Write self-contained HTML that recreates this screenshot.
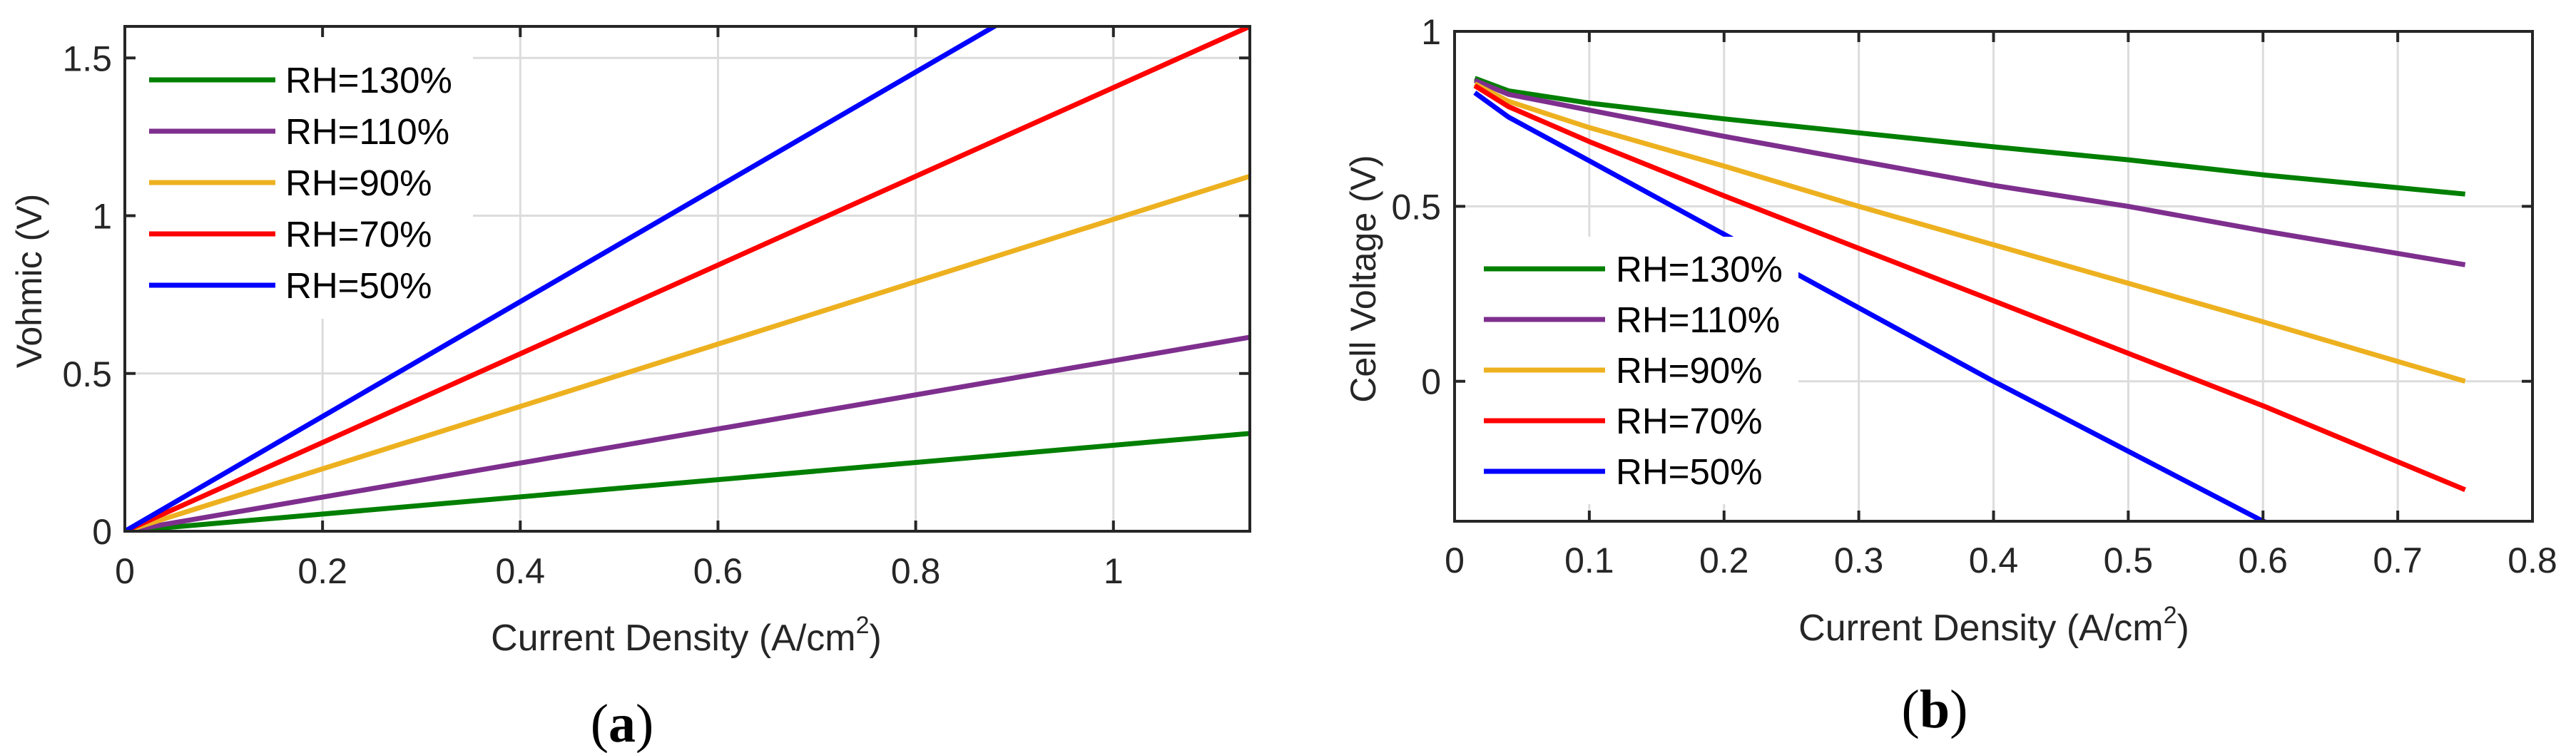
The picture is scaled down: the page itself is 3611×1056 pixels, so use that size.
<!DOCTYPE html>
<html><head><meta charset="utf-8"><style>
html,body{margin:0;padding:0;background:#fff;}
svg{display:block;font-family:"Liberation Sans",Arial,sans-serif;}
</style></head><body>
<svg id="fig" width="3611" height="1056" viewBox="0 0 3611 1056" xmlns="http://www.w3.org/2000/svg"></svg>
<script>
const seriesNames = ["RH=130%","RH=110%","RH=90%","RH=70%","RH=50%"];
const seriesColors = ["#007f00","#7e2f8e","#edb120","#ff0000","#0000ff"];
// Chart (a): Vohmic vs current density
const aX = [0, 1.138];
const aY130 = [0, 0.31];
const aY110 = [0, 0.615];
const aY90 = [0, 1.125];
const aY70 = [0, 1.6];
const aY50 = [0, 2.07];
const aXTicks = [0,0.2,0.4,0.6,0.8,1];
const aXTickLabels = ["0","0.2","0.4","0.6","0.8","1"];
const aYTicks = [0,0.5,1,1.5];
const aYTickLabels = ["0","0.5","1","1.5"];
// Chart (b): cell voltage
const bX = [0.015,0.04,0.1,0.2,0.3,0.4,0.5,0.6,0.75];
const bY130 = [0.866,0.83,0.795,0.75,0.71,0.67,0.633,0.59,0.535];
const bY110 = [0.86,0.82,0.775,0.70,0.63,0.56,0.50,0.43,0.333];
const bY90 = [0.85,0.80,0.725,0.615,0.50,0.39,0.28,0.17,0.0];
const bY70 = [0.845,0.785,0.685,0.53,0.38,0.23,0.08,-0.07,-0.31];
const bY50 = [0.825,0.755,0.63,0.42,0.21,0.0,-0.2,-0.4,-0.6];
const bXTicks = [0,0.1,0.2,0.3,0.4,0.5,0.6,0.7,0.8];
const bXTickLabels = ["0","0.1","0.2","0.3","0.4","0.5","0.6","0.7","0.8"];
const bYTicks = [0,0.5,1];
const bYTickLabels = ["0","0.5","1"];

const NS="http://www.w3.org/2000/svg";
const svg=document.getElementById('fig');
function mk(tag,attrs,parent,text){const e=document.createElementNS(NS,tag);for(const k in attrs)e.setAttribute(k,attrs[k]);if(text!==undefined)e.textContent=text;(parent||svg).appendChild(e);return e;}

function drawChart(cfg){
  const g=mk('g',{});
  
  
  const L=cfg.L,R=cfg.R,T=cfg.T,B=cfg.B;
  const sx=v=>L+(v-cfg.xmin)/(cfg.xmax-cfg.xmin)*(R-L);
  const sy=v=>B-(v-cfg.ymin)/(cfg.ymax-cfg.ymin)*(B-T);
  const cid='clip-'+cfg.name;
  const defs=mk('defs',{},g);const cp=mk('clipPath',{id:cid},defs);mk('rect',{x:L,y:T,width:R-L,height:B-T},cp);
  // grid
  cfg.xTicks.forEach(t=>{const l=mk('line',{x1:sx(t),x2:sx(t),y1:T,y2:B,stroke:'#dcdcdc','stroke-width':3},g);
    });
  cfg.yTicks.forEach(t=>{const l=mk('line',{x1:L,x2:R,y1:sy(t),y2:sy(t),stroke:'#dcdcdc','stroke-width':3},g);
    });
  // legend background (drawn before lines? In MATLAB legend is on top; place box after lines)
  const lines=mk('g',{'clip-path':'url(#'+cid+')'},g);
  cfg.series.forEach((ys,i)=>{
    const pts=cfg.xs.map((x,j)=>sx(x).toFixed(1)+','+sy(ys[j]).toFixed(1)).join(' ');
    const p=mk('polyline',{points:pts,fill:'none',stroke:seriesColors[i],'stroke-width':7,'stroke-linejoin':'round'},lines);
    
    
  });
  // legend
  const lg=mk('g',{},g);
  
  
  mk('rect',{x:cfg.leg.x,y:cfg.leg.y,width:cfg.leg.w,height:cfg.leg.h,fill:'#fff'},lg);
  seriesNames.forEach((n,i)=>{
    const yy=cfg.leg.row0+i*cfg.leg.dy;
    const e=mk('g',{},lg);
    
    
    mk('line',{x1:cfg.leg.lx1,x2:cfg.leg.lx2,y1:yy,y2:yy,stroke:seriesColors[i],'stroke-width':7},e);
    mk('text',{x:cfg.leg.tx,y:yy+18,'font-size':51,fill:'#000'},e,n);
  });
  // axes box
  const ax=mk('rect',{x:L,y:T,width:R-L,height:B-T,fill:'none',stroke:'#262626','stroke-width':4},g);
  
  cfg.xTicks.forEach((t,i)=>{
    mk('line',{x1:sx(t),x2:sx(t),y1:B,y2:B-15,stroke:'#262626','stroke-width':4},g);
    mk('line',{x1:sx(t),x2:sx(t),y1:T,y2:T+15,stroke:'#262626','stroke-width':4},g);
    const tx=mk('text',{x:sx(t),y:cfg.xLabY,'font-size':50,fill:'#262626','text-anchor':'middle'},g,cfg.xTickLabels[i]);
    
  });
  cfg.yTicks.forEach((t,i)=>{
    mk('line',{x1:L,x2:L+15,y1:sy(t),y2:sy(t),stroke:'#262626','stroke-width':4},g);
    mk('line',{x1:R,x2:R-15,y1:sy(t),y2:sy(t),stroke:'#262626','stroke-width':4},g);
    const ty=mk('text',{x:cfg.yLabX,y:sy(t)+18,'font-size':50,fill:'#262626','text-anchor':'end'},g,cfg.yTickLabels[i]);
    
  });
  const xt=mk('text',{x:cfg.xTitle[0],y:cfg.xTitle[1],'font-size':52,fill:'#262626','text-anchor':'middle'},g);
  
  mk('tspan',{},xt,'Current Density (A/cm');
  mk('tspan',{'font-size':34,dy:-24},xt,'2');
  mk('tspan',{dy:24},xt,')');
  const yt=mk('text',{x:0,y:0,'font-size':50,fill:'#262626','text-anchor':'middle',transform:'translate('+cfg.yTitle[0]+','+cfg.yTitle[1]+') rotate(-90)'},g,cfg.yTitleText);
  
  const cap=mk('text',{x:cfg.cap[0],y:cfg.cap[1],'font-size':76,fill:'#000','text-anchor':'middle','font-family':'"Liberation Serif",serif'},g);
  
  mk('tspan',{},cap,'(');mk('tspan',{'font-weight':'bold'},cap,cfg.capLetter);mk('tspan',{},cap,')');
}

drawChart({name:'chart-a',L:175,R:1752,T:37,B:745,xmin:0,xmax:1.138,ymin:0,ymax:1.6,
  xs:aX,series:[aY130,aY110,aY90,aY70,aY50],
  xTicks:aXTicks,xTickLabels:aXTickLabels,yTicks:aYTicks,yTickLabels:aYTickLabels,
  xLabY:818,yLabX:157,xTitle:[962,912],yTitle:[58,394],yTitleText:'Vohmic (V)',
  cap:[872,1040],capLetter:'a',
  leg:{x:177,y:39,w:486,h:408,row0:112,dy:72,lx1:209,lx2:386,tx:400}});
drawChart({name:'chart-b',L:2039,R:3550,T:44,B:731,xmin:0,xmax:0.8,ymin:-0.4,ymax:1,
  xs:bX,series:[bY130,bY110,bY90,bY70,bY50],
  xTicks:bXTicks,xTickLabels:bXTickLabels,yTicks:bYTicks,yTickLabels:bYTickLabels,
  xLabY:803,yLabX:2020,xTitle:[2795,898],yTitle:[1928,391],yTitleText:'Cell Voltage (V)',
  cap:[2712,1020],capLetter:'b',
  leg:{x:2041,y:332,w:480,h:375,row0:377,dy:71,lx1:2080,lx2:2250,tx:2265}});
</script>
</body></html>
